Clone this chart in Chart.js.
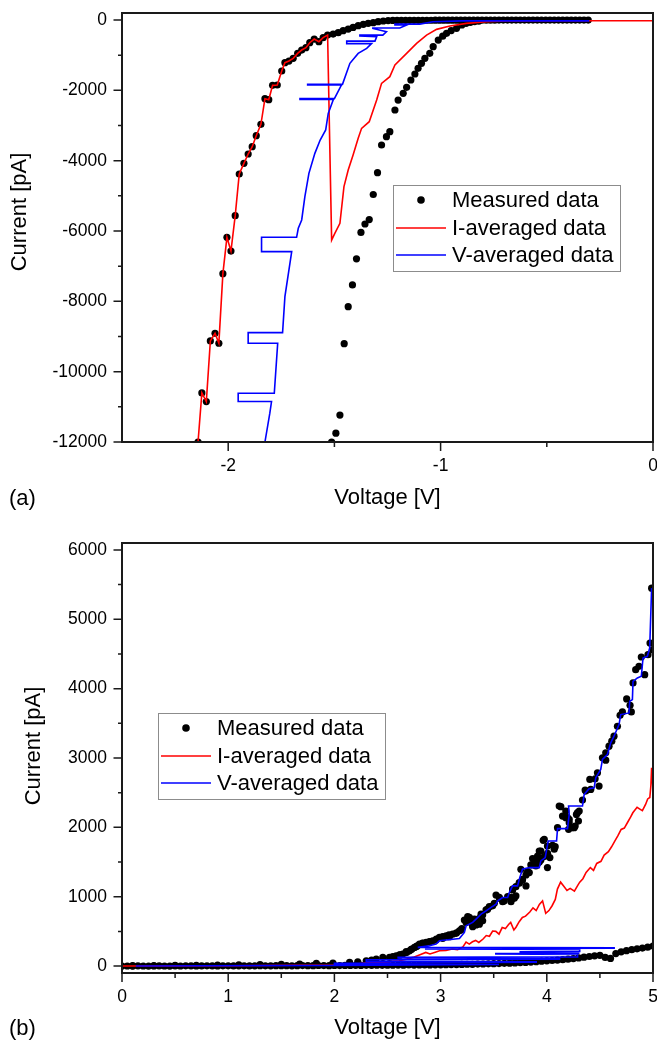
<!DOCTYPE html>
<html>
<head>
<meta charset="utf-8">
<script src="https://cdn.jsdelivr.net/npm/chart.js@4.4.1/dist/chart.umd.min.js"></script>
<style>
  html, body { margin: 0; padding: 0; background: #fff; }
  #wrap { position: relative; width: 657px; height: 1040px; }
  canvas { position: absolute; left: 0; }
</style>
</head>
<body>
<div id="wrap">
  <canvas id="chartA" width="657" height="520" style="top:0"></canvas>
  <canvas id="chartB" width="657" height="520" style="top:520px"></canvas>
</div>
<script>
// ---------- panel (a): negative bias, pairs are [voltage V, current pA]
const leftBranchA = [[-2.142,-12000],[-2.124,-10605],[-2.103,-10850],[-2.084,-9126],[-2.062,-8908],[-2.044,-9192],
  [-2.025,-7212],[-2.006,-6179],[-1.987,-6570],[-1.967,-5563],[-1.948,-4378],[-1.926,-4075],[-1.906,-3810],
  [-1.887,-3602],[-1.868,-3289],[-1.846,-2966],[-1.827,-2237],[-1.809,-2265],[-1.791,-1857],[-1.769,-1848],
  [-1.748,-1450],[-1.733,-1213],[-1.714,-1166],[-1.694,-1090],[-1.673,-948],[-1.654,-853],[-1.634,-787],
  [-1.616,-645],[-1.595,-541],[-1.573,-616],[-1.553,-502],[-1.532,-427]];
const topBranchA = [[-1.506,-398],[-1.482,-360],[-1.459,-303],[-1.435,-256],[-1.412,-209],[-1.388,-161],[-1.364,-123],
  [-1.341,-95],[-1.317,-76],[-1.294,-47],[-1.270,-28],[-1.247,-15],[-1.225,-12],[-1.205,-10],[-1.185,-9],[-1.165,-8],
  [-1.145,-8],[-1.125,-7],[-1.105,-7],[-1.085,-6],[-1.065,-6],[-1.045,-6],[-1.025,-5],[-1.005,-5],[-0.985,-5],
  [-0.965,-5],[-0.945,-4],[-0.925,-4],[-0.905,-4],[-0.885,-4],[-0.865,-4],[-0.845,-3],[-0.825,-3],[-0.805,-3],
  [-0.785,-3],[-0.765,-3],[-0.745,-3],[-0.725,-2],[-0.705,-2],[-0.685,-2],[-0.665,-2],[-0.645,-2],[-0.625,-2],
  [-0.605,-2],[-0.585,-2],[-0.565,-2],[-0.545,-1],[-0.525,-1],[-0.505,-1],[-0.485,-1],[-0.465,-1],[-0.445,-1],
  [-0.425,-1],[-0.405,-1],[-0.385,-1],[-0.365,-1],[-0.345,0],[-0.325,0],[-0.305,0]];
const rightBranchA = [[-0.82,-30],[-0.84,-45],[-0.86,-65],[-0.88,-95],[-0.90,-140],[-0.925,-237],[-0.95,-300],
  [-0.972,-379],[-0.99,-460],[-1.011,-569],[-1.035,-758],[-1.051,-948],[-1.074,-1090],[-1.090,-1232],[-1.106,-1374],
  [-1.121,-1535],[-1.140,-1706],[-1.160,-1914],[-1.176,-2085],[-1.200,-2275],[-1.215,-2559],[-1.239,-3175],
  [-1.255,-3317],[-1.278,-3554],[-1.297,-4341],[-1.317,-4961],[-1.336,-5676],[-1.356,-5800],[-1.375,-6041],
  [-1.396,-6790],[-1.415,-7534],[-1.435,-8151],[-1.454,-9203],[-1.474,-11234],[-1.493,-11750],[-1.513,-12000]];
const iAvgTailA = [[-1.513,-6255],[-1.498,-6065],[-1.474,-5780],[-1.455,-4739],[-1.435,-4265],[-1.412,-3838],
  [-1.388,-3364],[-1.372,-3080],[-1.336,-2891],[-1.301,-2275],[-1.278,-1801],[-1.239,-1611],[-1.215,-1280],
  [-1.160,-948],[-1.113,-663],[-1.066,-427],[-1.019,-265],[-0.956,-171],[-0.878,-95],[-0.784,-47],[-0.690,-28],
  [-0.500,-20],[0,-20]];
const vAvgA = [[-1.835,-12400],[-1.827,-12000],[-1.804,-11180],[-1.796,-10850],[-1.953,-10850],[-1.953,-10615],
  [-1.783,-10615],[-1.767,-9192],[-1.906,-9192],[-1.906,-8890],[-1.744,-8890],[-1.733,-7866],[-1.701,-6587],
  [-1.843,-6587],[-1.843,-6179],[-1.678,-6179],[-1.670,-5923],[-1.654,-5686],[-1.639,-5023],[-1.620,-4359],
  [-1.592,-3791],[-1.567,-3412],[-1.541,-3127],[-1.529,-2654],[-1.505,-2260],[-1.662,-2260],[-1.662,-2235],
  [-1.500,-2235],[-1.467,-1848],[-1.626,-1848],[-1.626,-1830],[-1.462,-1830],[-1.427,-1232],[-1.388,-948],
  [-1.348,-805],[-1.325,-670],[-1.442,-670],[-1.442,-600],[-1.309,-600],[-1.301,-475],[-1.380,-455],[-1.380,-430],
  [-1.272,-430],[-1.255,-333],[-1.319,-240],[-1.319,-225],[-1.192,-225],[-1.160,-142],[-1.215,-142],[-1.215,-115],
  [-1.098,-115],[-1.036,-48],[-0.9,-25],[-0.3,-25]];
const xMajorA = [-2, -1, 0];
const xMinorA = [-1.5, -0.5];
const yMajorA = [-12000, -10000, -8000, -6000, -4000, -2000, 0];
const yMinorA = [-11000, -9000, -7000, -5000, -3000, -1000];

// ---------- panel (b): positive bias
const lowerBranchB = [[0,0],[0.05,1],[0.1,0],[0.15,2],[0.2,1],[0.25,0],[0.3,1],[0.35,2],[0.4,1],[0.45,0],[0.5,2],
  [0.55,1],[0.6,3],[0.65,2],[0.7,1],[0.75,2],[0.8,3],[0.85,2],[0.9,1],[0.95,3],[1.0,3],[1.05,2],[1.1,4],[1.15,3],
  [1.2,2],[1.25,4],[1.3,5],[1.35,3],[1.4,4],[1.45,5],[1.5,6],[1.55,5],[1.6,4],[1.65,6],[1.7,7],[1.75,5],[1.8,6],
  [1.85,8],[1.9,7],[1.95,6],[2.0,8],[2.05,7],[2.1,9],[2.15,8],[2.2,10],[2.25,9],[2.3,11],[2.35,10],[2.4,12],
  [2.45,11],[2.5,13],[2.55,12],[2.6,14],[2.65,13],[2.7,15],[2.75,14],[2.8,16],[2.85,15],[2.9,17],[2.95,18],
  [3.0,18],[3.05,20],[3.1,22],[3.15,21],[3.2,24],[3.25,26],[3.3,25],[3.35,28],[3.4,30],[3.45,32],[3.5,34],
  [3.55,36],[3.6,40],[3.65,42],[3.7,45],[3.75,50],[3.8,53],[3.85,58],[3.9,62],[3.95,70],[4.0,75],[4.05,80],
  [4.1,86],[4.15,92],[4.2,100],[4.25,108],[4.3,118],[4.35,128],[4.4,138],[4.45,148],[4.5,155],[4.55,125],
  [4.6,110],[4.65,180],[4.7,205],[4.75,222],[4.8,236],[4.85,248],[4.9,260],[4.95,272],[5.0,288]];
const upperBranchB = [[0.1,5],[0.3,7],[0.5,9],[0.7,11],[0.9,14],[1.1,17],[1.3,21],[1.5,25],[1.673,29],[1.83,39],
  [1.986,43],[2.143,53],[2.22,62],[2.3,76],[2.35,85],[2.394,101],[2.456,125],[2.519,125],[2.55,135],[2.582,148],
  [2.613,160],[2.62,160],[2.644,173],[2.676,208],[2.68,195],[2.707,220],[2.723,242],[2.73,245],[2.754,269],
  [2.769,280],[2.78,290],[2.801,317],[2.83,330],[2.832,328],[2.864,341],[2.895,352],[2.9,350],[2.926,364],
  [2.957,376],[2.96,390],[2.989,413],[3.02,425],[3.02,400],[3.052,436],[3.08,450],[3.083,424],[3.114,460],
  [3.146,472],[3.15,480],[3.177,508],[3.193,520],[3.2,540],[3.224,663],[3.24,629],[3.255,712],[3.271,701],
  [3.286,640],[3.302,580],[3.302,568],[3.318,676],[3.334,592],[3.365,604],[3.365,689],[3.381,748],[3.396,652],
  [3.396,737],[3.428,809],[3.443,820],[3.459,857],[3.49,868],[3.506,905],[3.522,1025],[3.553,989],[3.553,977],
  [3.584,929],[3.6,940],[3.631,1001],[3.663,989],[3.663,929],[3.678,1108],[3.678,1097],[3.694,977],[3.709,1012],
  [3.709,1145],[3.741,1204],[3.741,1194],[3.756,1396],[3.771,1252],[3.771,1242],[3.804,1156],[3.804,1314],
  [3.819,1362],[3.835,1348],[3.85,1458],[3.866,1550],[3.882,1540],[3.882,1506],[3.897,1443],[3.913,1587],
  [3.913,1482],[3.929,1659],[3.929,1501],[3.944,1659],[3.944,1530],[3.966,1813],[3.976,1827],[3.976,1578],
  [4.006,1731],[4.006,1420],[4.007,1626],[4.029,1564],[4.054,1741],[4.07,1684],[4.079,1722],[4.101,1995],
  [4.117,2307],[4.132,2298],[4.148,2163],[4.179,2139],[4.179,2235],[4.195,2139],[4.205,1971],[4.211,2115],
  [4.211,2067],[4.236,1995],[4.258,1995],[4.267,2019],[4.279,2187],[4.289,2211],[4.298,2091],[4.305,2235],
  [4.336,2393],[4.361,2537],[4.367,2523],[4.405,2691],[4.414,2547],[4.455,2701],[4.477,2787],[4.492,2595],
  [4.524,3003],[4.555,2969],[4.555,3075],[4.586,3170],[4.612,3242],[4.633,3314],[4.665,3458],[4.69,3616],
  [4.712,3665],[4.752,3852],[4.784,3760],[4.796,3665],[4.812,4082],[4.837,4274],[4.868,4322],[4.89,4456],
  [4.922,4202],[4.953,4490],[4.972,4658],[5.0,4562],[4.987,5449]];
const iAvgB = [[0,0],[0.13,0],[1.0,5],[2.0,15],[2.2,30],[2.3,45],[2.42,53],[2.5,60],[2.61,76],[2.68,100],[2.74,125],
  [2.8,160],[2.86,197],[2.9,175],[2.95,200],[2.99,220],[3.05,225],[3.11,245],[3.16,235],[3.21,275],[3.24,345],
  [3.27,317],[3.3,350],[3.33,370],[3.36,340],[3.4,390],[3.43,440],[3.46,430],[3.49,505],[3.52,500],[3.55,460],
  [3.58,555],[3.61,540],[3.64,600],[3.66,630],[3.69,520],[3.71,560],[3.74,640],[3.77,700],[3.8,720],[3.84,780],
  [3.87,840],[3.9,800],[3.93,890],[3.96,940],[3.99,760],[4.02,800],[4.05,870],[4.08,960],[4.1,1110],[4.13,1210],
  [4.16,1150],[4.19,1090],[4.22,1120],[4.26,1080],[4.29,1160],[4.31,1210],[4.34,1260],[4.37,1350],[4.41,1420],
  [4.44,1380],[4.47,1480],[4.51,1510],[4.54,1600],[4.58,1650],[4.61,1720],[4.64,1800],[4.67,1880],[4.7,1970],
  [4.73,1990],[4.76,2070],[4.79,2150],[4.81,2210],[4.85,2290],[4.88,2260],[4.9,2240],[4.93,2330],[4.95,2410],
  [4.97,2430],[4.98,2600],[4.987,2860],[5.0,2550]];
const vAvgLoopsB = [[0.13,0],[2.0,10],[3.55,22],[2.0,28],[2.0,40],[3.9,55],[3.9,62],[2.3,68],[2.3,92],[4.12,100],
  [4.12,110],[2.6,118],[2.6,126],[4.29,132],[4.29,166],[3.52,173],[3.52,180],[4.3,186],[4.3,193],[3.75,198],
  [3.75,205],[4.31,212],[4.31,238],[2.86,245],[2.86,250],[4.634,256],[4.634,262],[2.785,269]];
const vAvgStairsB = [[2.895,292],[2.957,317],[2.989,364],[3.177,397],[3.224,484],[3.24,580],[3.302,629],[3.334,676],
  [3.381,748],[3.428,796],[3.475,845],[3.522,892],[3.538,940],[3.584,989],[3.631,989],[3.647,1060],[3.678,1156],
  [3.725,1156],[3.741,1252],[3.771,1396],[3.835,1420],[3.929,1420],[3.944,1516],[3.985,1564],[4.013,1803],
  [4.092,1803],[4.101,1981],[4.195,1981],[4.211,2187],[4.205,2307],[4.336,2307],[4.352,2475],[4.398,2557],
  [4.446,2571],[4.461,2715],[4.508,2835],[4.524,2979],[4.571,3051],[4.602,3219],[4.633,3314],[4.68,3482],
  [4.696,3626],[4.774,3650],[4.781,3818],[4.806,3842],[4.812,4106],[4.853,4154],[4.89,4178],[4.906,4442],
  [4.947,4466],[4.969,4586],[4.987,5449]];
const xMajorB = [0, 1, 2, 3, 4, 5];
const xMinorB = [0.5, 1.5, 2.5, 3.5, 4.5];
const yMajorB = [0, 1000, 2000, 3000, 4000, 5000, 6000];
const yMinorB = [500, 1500, 2500, 3500, 4500, 5500];

const legendLabels = ['Measured data', 'I-averaged data', 'V-averaged data'];
const FONT = '"Liberation Sans", Arial, sans-serif';
Chart.defaults.font.family = FONT;
Chart.defaults.color = '#000';

const pts = arr => arr.map(p => ({x: p[0], y: p[1]}));

function decorPlugin(cfg) {
  return {
    id: 'decor',
    afterDraw(chart) {
      const {ctx, chartArea: a, scales: {x, y}} = chart;
      ctx.save();
      ctx.strokeStyle = '#1a1a1a';
      ctx.lineWidth = 2;
      ctx.strokeRect(a.left, a.top, a.right - a.left, a.bottom - a.top);
      ctx.lineWidth = 1.5;
      ctx.beginPath();
      cfg.xMajor.forEach(v => { const p = x.getPixelForValue(v); ctx.moveTo(p, a.bottom); ctx.lineTo(p, a.bottom + 9); });
      cfg.xMinor.forEach(v => { const p = x.getPixelForValue(v); ctx.moveTo(p, a.bottom); ctx.lineTo(p, a.bottom + 5); });
      cfg.yMajor.forEach(v => { const p = y.getPixelForValue(v); ctx.moveTo(a.left, p); ctx.lineTo(a.left - 8.5, p); });
      cfg.yMinor.forEach(v => { const p = y.getPixelForValue(v); ctx.moveTo(a.left, p); ctx.lineTo(a.left - 4, p); });
      ctx.stroke();

      ctx.fillStyle = '#000';
      ctx.font = '22px ' + FONT;
      ctx.textBaseline = 'middle';
      ctx.textAlign = 'center';
      ctx.fillText('Voltage [V]', (a.left + a.right) / 2, cfg.xTitleY);
      ctx.save();
      ctx.translate(cfg.yTitleX, cfg.yTitleY);
      ctx.rotate(-Math.PI / 2);
      ctx.fillText('Current [pA]', 0, 0);
      ctx.restore();
      ctx.textAlign = 'left';
      ctx.fillText(cfg.panel, 9, cfg.panelY);

      // legend box
      const b = cfg.legend;
      ctx.fillStyle = '#fff';
      ctx.fillRect(b.x, b.y, b.w, b.h);
      ctx.strokeStyle = '#8c8c8c';
      ctx.lineWidth = 1;
      ctx.strokeRect(b.x + 0.5, b.y + 0.5, b.w, b.h);
      const rows = [15, 43, 70];
      ctx.fillStyle = '#000';
      ctx.beginPath();
      ctx.arc(b.x + 28, b.y + rows[0], 3.8, 0, Math.PI * 2);
      ctx.fill();
      ctx.lineWidth = 1.6;
      ['#ff0000', '#0000ff'].forEach((c, i) => {
        ctx.strokeStyle = c;
        ctx.beginPath();
        ctx.moveTo(b.x + 3, b.y + rows[i + 1]);
        ctx.lineTo(b.x + 53, b.y + rows[i + 1]);
        ctx.stroke();
      });
      ctx.fillStyle = '#000';
      ctx.font = '22px ' + FONT;
      legendLabels.forEach((t, i) => ctx.fillText(t, b.x + 59, b.y + rows[i] + 1));
      ctx.restore();
    }
  };
}

function makeChart(id, o) {
  const axisFont = {size: 17.5, family: FONT};
  return new Chart(document.getElementById(id), {
    type: 'scatter',
    data: {
      datasets: [
        {label: legendLabels[2], data: pts(o.vAvg), showLine: true, borderColor: '#0000ff', borderWidth: 1.6,
          pointRadius: 0, tension: 0, clip: 0, order: 1},
        {label: legendLabels[1], data: pts(o.iAvg), showLine: true, borderColor: '#ff0000', borderWidth: 1.6,
          pointRadius: 0, tension: 0, clip: 0, order: 2},
        {label: legendLabels[0], data: pts(o.measured), showLine: false, backgroundColor: '#000',
          borderWidth: 0, pointRadius: 3.6, clip: 0, order: 3}
      ]
    },
    options: {
      responsive: false,
      animation: false,
      events: [],
      layout: {padding: {left: 0, right: 3, top: o.top, bottom: 0}},
      plugins: {legend: {display: false}, tooltip: {enabled: false}},
      scales: {
        x: {
          type: 'linear', min: o.xMin, max: o.xMax,
          border: {display: false},
          grid: {display: true, drawOnChartArea: false, drawTicks: true, tickLength: 9, color: 'rgba(0,0,0,0)', tickColor: 'rgba(0,0,0,0)'},
          ticks: {padding: 5, font: axisFont, color: '#000', maxRotation: 0, autoSkip: false, callback: v => String(v)},
          afterBuildTicks: s => { s.ticks = o.xMajor.map(v => ({value: v})); },
          afterFit: s => { s.height = o.xAxisH; s.paddingLeft = 0; s.paddingRight = 0; }
        },
        y: {
          type: 'linear', min: o.yMin, max: o.yMax,
          border: {display: false},
          grid: {display: true, drawOnChartArea: false, drawTicks: true, tickLength: 9, color: 'rgba(0,0,0,0)', tickColor: 'rgba(0,0,0,0)'},
          ticks: {padding: 6, font: axisFont, color: '#000', autoSkip: false, callback: v => String(v)},
          afterBuildTicks: s => { s.ticks = o.yMajor.map(v => ({value: v})); },
          afterFit: s => { s.width = 122; s.paddingTop = 0; s.paddingBottom = 0; }
        }
      }
    },
    plugins: [decorPlugin(o)]
  });
}

makeChart('chartA', {
  measured: leftBranchA.concat(topBranchA, rightBranchA),
  iAvg: [[-2.16, -12700]].concat(leftBranchA, iAvgTailA),
  vAvg: vAvgA,
  xMin: -2.5, xMax: 0, yMin: -12000, yMax: 200,
  xMajor: xMajorA, xMinor: xMinorA, yMajor: yMajorA, yMinor: yMinorA,
  top: 13, xAxisH: 78,
  xTitleY: 498, yTitleX: 20, yTitleY: 212, panel: '(a)', panelY: 499,
  legend: {x: 393, y: 185, w: 227, h: 86}
});

makeChart('chartB', {
  measured: lowerBranchB.concat(upperBranchB),
  iAvg: iAvgB,
  vAvg: vAvgLoopsB.concat(vAvgStairsB),
  xMin: 0, xMax: 5, yMin: -100, yMax: 6100,
  xMajor: xMajorB, xMinor: xMinorB, yMajor: yMajorB, yMinor: yMinorB,
  top: 23, xAxisH: 67,
  xTitleY: 508, yTitleX: 34, yTitleY: 226, panel: '(b)', panelY: 509,
  legend: {x: 158, y: 193, w: 227, h: 86}
});
</script>
</body>
</html>
